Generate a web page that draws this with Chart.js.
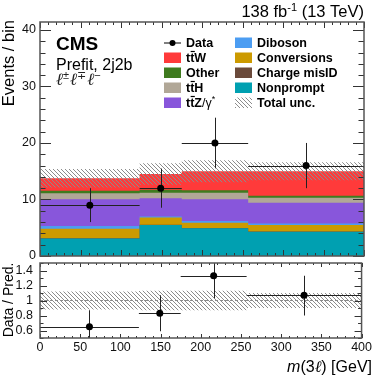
<!DOCTYPE html>
<html>
<head>
<meta charset="utf-8">
<script src="https://cdn.jsdelivr.net/npm/chart.js@4.4.0/dist/chart.umd.min.js"></script>
<style>
  html, body { margin: 0; padding: 0; background: #fff; }
  #wrap { position: relative; width: 374px; height: 377px; }
  canvas { position: absolute; left: 0; top: 0; }
</style>
</head>
<body>
<div id="wrap">
  <canvas id="main" width="374" height="377"></canvas>
  <canvas id="ratio" width="374" height="377"></canvas>
</div>
<script>
// binning and data, m(3l) in GeV
var binEdges = [0, 123, 175, 257, 400];
var binCenters = [61.5, 149, 216, 328.5];

var dataY = [9, 12, 20, 16];
var dataLow = [6, 8.54, 15.53, 12];
var dataHigh = [12, 15.46, 24.47, 20];

// prediction, stacked bottom -> top
var nonprompt = [3.1, 5.5, 4.9, 4.3];
var chargeMisID = [0.05, 0.05, 0.05, 0.05];
var conversions = [1.65, 1.25, 0.95, 1.12];
var diboson = [0.5, 0.2, 0.3, 0.3];
var ttZ = [4.75, 3.2, 3.86, 3.63];
var ttH = [1.05, 1.0, 1.14, 0.9];
var other = [0.45, 0.5, 0.45, 0.35];
var ttW = [2.2, 2.8, 3.35, 4.35];

var uncLow = [12.1, 12.6, 13.05, 13.4];
var uncHigh = [15.4, 16.4, 16.95, 16.6];

// ratio panel
var ratioY = [0.65, 0.83, 1.33, 1.07];
var ratioLow = [0.43, 0.59, 1.03, 0.80];
var ratioHigh = [0.87, 1.07, 1.63, 1.33];
var ratioUncLow = [0.88, 0.87, 0.87, 0.90];
var ratioUncHigh = [1.12, 1.13, 1.13, 1.10];

var yTicks = [0, 10, 20, 30, 40];
var ratioTicks = [0.6, 0.8, 1, 1.2, 1.4];
var xTicks = [0, 50, 100, 150, 200, 250, 300, 350, 400];

var stackValues = [nonprompt, chargeMisID, conversions, diboson, ttZ, ttH, other, ttW];
var stackNames = ['Nonprompt', 'Charge misID', 'Conversions', 'Diboson', 'ttZ', 'ttH', 'Other', 'ttW'];
var stackColors = ['#00a0b1', '#6b4a3b', '#cc9a00', '#4c9df2', '#8856db', '#b1a797', '#3f7b1f', '#ff3a3a'];

var SANS = '"Liberation Sans", Arial, sans-serif';
var SERIF = '"Liberation Serif", serif';

// one point per bin edge, the last edge repeats the last bin
function steps(vals) {
  return binEdges.map(function (x, i) {
    return { x: x, y: vals[Math.min(i, vals.length - 1)] };
  });
}
function points(xs, ys) {
  return xs.map(function (x, i) { return { x: x, y: ys[i] }; });
}

function makeHatch(ctx) {
  var c = document.createElement('canvas');
  c.width = 4; c.height = 4;
  var g = c.getContext('2d');
  g.strokeStyle = '#8c8c8c';
  g.lineWidth = 1;
  g.beginPath();
  for (var k = -4; k <= 4; k += 4) { g.moveTo(k - 1, -1); g.lineTo(k + 5, 5); }
  g.stroke();
  return ctx.createPattern(c, 'repeat');
}

function runsWidth(ctx, runs) {
  var w = 0;
  runs.forEach(function (r) { ctx.font = r.font; w += ctx.measureText(r.t).width; });
  return w;
}
function drawRuns(ctx, x, y, runs, align) {
  if (align === 'right') x -= runsWidth(ctx, runs);
  ctx.textAlign = 'left';
  ctx.textBaseline = 'alphabetic';
  runs.forEach(function (r) {
    ctx.font = r.font;
    var w = ctx.measureText(r.t).width;
    ctx.fillText(r.t, x, y + (r.dy || 0));
    if (r.bar) {
      ctx.save();
      ctx.strokeStyle = ctx.fillStyle;
      ctx.lineWidth = 1.2;
      ctx.beginPath();
      ctx.moveTo(x + 0.5, y - 10.5);
      ctx.lineTo(x + w + 0.5, y - 10.5);
      ctx.stroke();
      ctx.restore();
    }
    x += w + (r.gap || 0);
  });
}

function makeErrorBars(axisId, ys, lo, hi) {
  return {
    id: 'errorBars',
    beforeDatasetDraw: function (chart, args) {
      if (args.index !== 0) return;
      var xs = chart.scales.x, sy = chart.scales[axisId];
      var ctx = chart.ctx, a = chart.chartArea;
      ctx.save();
      ctx.beginPath();
      ctx.rect(a.left, a.top, a.right - a.left, a.bottom - a.top);
      ctx.clip();
      ctx.strokeStyle = '#222';
      ctx.lineWidth = 1;
      ctx.beginPath();
      ys.forEach(function (v, i) {
        var px = Math.round(xs.getPixelForValue(binCenters[i])) + 0.5;
        var py = Math.round(sy.getPixelForValue(v)) + 0.5;
        ctx.moveTo(xs.getPixelForValue(binEdges[i]), py);
        ctx.lineTo(xs.getPixelForValue(binEdges[i + 1]), py);
        ctx.moveTo(px, sy.getPixelForValue(lo[i]));
        ctx.lineTo(px, sy.getPixelForValue(hi[i]));
      });
      ctx.stroke();
      ctx.restore();
    }
  };
}

function makeFrame(o) {
  return {
    id: 'frame',
    afterDraw: function (chart) {
      var ctx = chart.ctx, a = chart.chartArea;
      var xs = chart.scales.x, ys = chart.scales.y;
      ctx.save();
      ctx.strokeStyle = '#333';
      ctx.lineWidth = 1;
      ctx.beginPath();
      var v, p, L, n;
      for (n = 0; ; n++) {
        v = xs.min + n * o.xMinor;
        if (v > xs.max + 1e-9) break;
        p = Math.round(xs.getPixelForValue(v)) + 0.5;
        L = (n % o.xEvery === 0) ? o.xMaj : o.xMin;
        ctx.moveTo(p, a.bottom); ctx.lineTo(p, a.bottom - L);
        ctx.moveTo(p, a.top); ctx.lineTo(p, a.top + L);
      }
      for (n = 0; ; n++) {
        v = o.yStart + n * o.yMinor;
        if (v > ys.max + 1e-9) break;
        p = Math.round(ys.getPixelForValue(v)) + 0.5;
        L = (n % o.yEvery === o.yPhase) ? o.yMaj : o.yMin;
        ctx.moveTo(a.left, p); ctx.lineTo(a.left + L, p);
        ctx.moveTo(a.right, p); ctx.lineTo(a.right - L, p);
      }
      ctx.stroke();
      ctx.strokeStyle = '#555';
      ctx.lineWidth = 1.5;
      ctx.strokeRect(a.left, a.top, a.right - a.left, a.bottom - a.top);
      ctx.restore();
    }
  };
}

var mainCtx = document.getElementById('main').getContext('2d');
var hatch = makeHatch(mainCtx);

var mainSets = [
  { data: points(binCenters, dataY), yAxisID: 'yb', showLine: false,
    pointRadius: 3.5, pointBackgroundColor: '#000', pointBorderWidth: 0 },
  { data: steps(uncLow), yAxisID: 'yb', stepped: 'before', fill: false,
    borderColor: 'rgba(0,0,0,0)', pointRadius: 0 },
  { data: steps(uncHigh), yAxisID: 'yb', stepped: 'before', fill: '-1',
    backgroundColor: hatch, borderColor: 'rgba(0,0,0,0)', pointRadius: 0 }
];
stackValues.forEach(function (vals, i) {
  mainSets.push({
    label: stackNames[i], data: steps(vals), yAxisID: 'y', stepped: 'before',
    fill: 'origin', backgroundColor: stackColors[i],
    borderColor: 'rgba(0,0,0,0)', borderWidth: 0, pointRadius: 0
  });
});

var legendLeft = [
  { kind: 'data', runs: [{ t: 'Data' }] },
  { color: '#ff3a3a', runs: [{ t: 't' }, { t: 't', bar: true }, { t: 'W' }] },
  { color: '#3f7b1f', runs: [{ t: 'Other' }] },
  { color: '#b1a797', runs: [{ t: 't' }, { t: 't', bar: true }, { t: 'H' }] },
  { color: '#8856db', runs: [{ t: 't' }, { t: 't', bar: true }, { t: 'Z' }, { t: '/\u03b3', reg: true }, { t: '*', reg: true, small: true }] }
];
var legendRight = [
  { color: '#4c9df2', runs: [{ t: 'Diboson' }] },
  { color: '#cc9a00', runs: [{ t: 'Conversions' }] },
  { color: '#6b4a3b', runs: [{ t: 'Charge misID' }] },
  { color: '#00a0b1', runs: [{ t: 'Nonprompt' }] },
  { kind: 'hatch', runs: [{ t: 'Total unc.' }] }
];

var mainText = {
  id: 'mainText',
  afterDraw: function (chart) {
    var ctx = chart.ctx;
    ctx.save();
    ctx.fillStyle = '#000';
    // CMS label block
    drawRuns(ctx, 56, 49.5, [{ t: 'CMS', font: 'bold 19px ' + SANS }]);
    drawRuns(ctx, 56, 70, [{ t: 'Prefit, 2j2b', font: '16px ' + SANS }]);
    ctx.fillStyle = '#222';
    drawRuns(ctx, 56, 84.5, [
      { t: '\u2113', font: 'italic 17px ' + SERIF },
      { t: '\u00b1', font: '11px ' + SANS, dy: -6, gap: 1 },
      { t: '\u2113', font: 'italic 17px ' + SERIF },
      { t: '\u2213', font: '11px ' + SANS, dy: -6, gap: 1 },
      { t: '\u2113', font: 'italic 17px ' + SERIF },
      { t: '\u2212', font: '11px ' + SANS, dy: -6 }
    ]);
    ctx.fillStyle = '#000';
    // luminosity
    drawRuns(ctx, 364, 16.5, [
      { t: '138 fb', font: '16.5px ' + SANS },
      { t: '-1', font: '11px ' + SANS, dy: -6 },
      { t: ' (13 TeV)', font: '16.5px ' + SANS }
    ], 'right');
    // y title
    ctx.save();
    ctx.translate(14, 20);
    ctx.rotate(-Math.PI / 2);
    ctx.font = '16.5px ' + SANS;
    ctx.textAlign = 'right';
    ctx.textBaseline = 'alphabetic';
    ctx.fillText('Events / bin', 0, 0);
    ctx.restore();
    // legend
    function entry(e, bx, tx, cy) {
      if (e.kind === 'data') {
        ctx.strokeStyle = '#000';
        ctx.lineWidth = 1;
        ctx.beginPath();
        ctx.moveTo(bx, cy + 0.5); ctx.lineTo(bx + 17, cy + 0.5);
        ctx.stroke();
        ctx.beginPath();
        ctx.arc(bx + 8.5, cy + 0.5, 3, 0, Math.PI * 2);
        ctx.fillStyle = '#000';
        ctx.fill();
      } else if (e.kind === 'hatch') {
        ctx.fillStyle = hatch;
        ctx.fillRect(bx, cy - 5, 17, 10.5);
      } else {
        ctx.fillStyle = e.color;
        ctx.fillRect(bx, cy - 5, 17, 10.5);
      }
      ctx.fillStyle = '#000';
      drawRuns(ctx, tx, cy + 4.5, e.runs.map(function (r) {
        return { t: r.t, bar: r.bar, dy: r.small ? -5 : 0,
          font: r.reg ? (r.small ? '9px ' : '12.5px ') + SANS : 'bold 12.5px ' + SANS };
      }));
    }
    for (var i = 0; i < 5; i++) {
      var cy = 42.5 + i * 15;
      entry(legendLeft[i], 164, 186, cy);
      entry(legendRight[i], 235, 257, cy);
    }
    ctx.restore();
  }
};

new Chart(mainCtx, {
  type: 'line',
  data: { datasets: mainSets },
  options: {
    responsive: false,
    animation: false,
    events: [],
    layout: { padding: { left: 0, right: 10, top: 22, bottom: 121 } },
    scales: {
      x: { type: 'linear', min: 0, max: 400, display: false },
      y: {
        stacked: true, min: 0, max: 41.4,
        afterFit: function (s) { s.width = 40; },
        afterBuildTicks: function (s) { s.ticks = yTicks.map(function (v) { return { value: v }; }); },
        ticks: { autoSkip: false, padding: 4, color: '#111', font: { family: SANS, size: 12.5 },
          callback: function (v) { return String(v); } },
        grid: { display: false, drawTicks: false },
        border: { display: false }
      },
      yb: { min: 0, max: 41.4, display: false }
    },
    plugins: { legend: { display: false }, tooltip: { enabled: false } }
  },
  plugins: [
    makeErrorBars('yb', dataY, dataLow, dataHigh),
    makeFrame({ xMinor: 10, xEvery: 5, xMaj: 6, xMin: 3,
      yStart: 0, yMinor: 2, yEvery: 5, yPhase: 0, yMaj: 11, yMin: 5.5 }),
    mainText
  ]
});

// ratio panel
var ratioCtx = document.getElementById('ratio').getContext('2d');
var ratioSets = [
  { data: points(binCenters, ratioY), yAxisID: 'y', showLine: false,
    pointRadius: 3.5, pointBackgroundColor: '#000', pointBorderWidth: 0 },
  { data: [{ x: 0, y: 1 }, { x: 400, y: 1 }], yAxisID: 'y', borderColor: '#8a8a8a',
    borderWidth: 1, borderDash: [3, 2], pointRadius: 0, fill: false },
  { data: steps(ratioUncLow), yAxisID: 'y', stepped: 'before', fill: false,
    borderColor: 'rgba(0,0,0,0)', pointRadius: 0 },
  { data: steps(ratioUncHigh), yAxisID: 'y', stepped: 'before', fill: '-1',
    backgroundColor: hatch, borderColor: 'rgba(0,0,0,0)', pointRadius: 0 }
];

var ratioText = {
  id: 'ratioText',
  afterDraw: function (chart) {
    var ctx = chart.ctx;
    ctx.save();
    ctx.fillStyle = '#000';
    ctx.save();
    ctx.translate(13, 300);
    ctx.rotate(-Math.PI / 2);
    ctx.font = '14px ' + SANS;
    ctx.textAlign = 'center';
    ctx.textBaseline = 'alphabetic';
    ctx.fillText('Data / Pred.', 0, 0);
    ctx.restore();
    drawRuns(ctx, 372, 372, [
      { t: 'm', font: 'italic 16px ' + SANS },
      { t: '(3', font: '16px ' + SANS },
      { t: '\u2113', font: 'italic 16px ' + SERIF },
      { t: ') [GeV]', font: '16px ' + SANS }
    ], 'right');
    ctx.restore();
  }
};

new Chart(ratioCtx, {
  type: 'line',
  data: { datasets: ratioSets },
  options: {
    responsive: false,
    animation: false,
    events: [],
    layout: { padding: { left: 0, right: 10, top: 263, bottom: 0 } },
    scales: {
      x: {
        type: 'linear', min: 0, max: 400,
        afterFit: function (s) { s.height = 39; },
        afterBuildTicks: function (s) { s.ticks = xTicks.map(function (v) { return { value: v }; }); },
        ticks: { autoSkip: false, maxRotation: 0, padding: 2, color: '#111',
          font: { family: SANS, size: 12.5 }, callback: function (v) { return String(v); } },
        grid: { display: false, drawTicks: false },
        border: { display: false }
      },
      y: {
        min: 0.5, max: 1.5,
        afterFit: function (s) { s.width = 40; },
        afterBuildTicks: function (s) { s.ticks = ratioTicks.map(function (v) { return { value: v }; }); },
        ticks: { autoSkip: false, padding: 7, color: '#111', font: { family: SANS, size: 12.5 },
          callback: function (v) { return String(v); } },
        grid: { display: false, drawTicks: false },
        border: { display: false }
      }
    },
    plugins: { legend: { display: false }, tooltip: { enabled: false } }
  },
  plugins: [
    makeErrorBars('y', ratioY, ratioLow, ratioHigh),
    makeFrame({ xMinor: 10, xEvery: 5, xMaj: 4, xMin: 2,
      yStart: 0.5, yMinor: 0.1, yEvery: 2, yPhase: 1, yMaj: 7, yMin: 3.5 }),
    ratioText
  ]
});
</script>
</body>
</html>
